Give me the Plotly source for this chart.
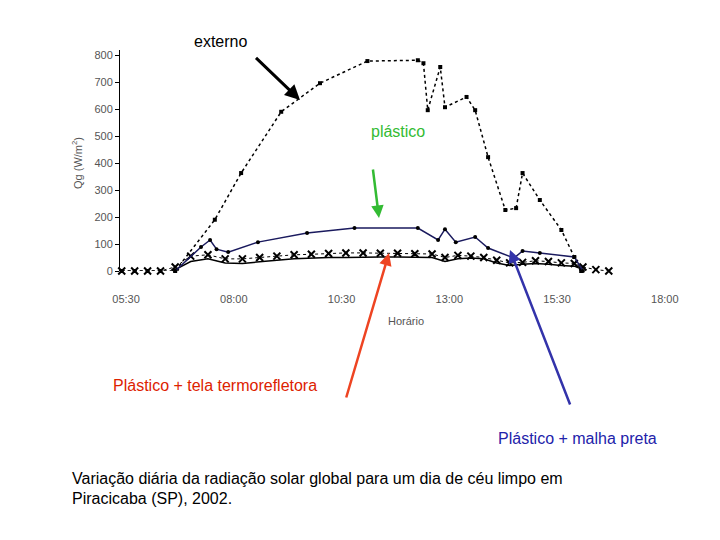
import plotly.graph_objects as go

ext_h = [5.4,5.7,6.0,6.3,6.64,7.56,8.17,9.1,10.0,11.1,12.27,12.4,12.5,12.79,12.9,13.4,13.6,13.9,14.3,14.55,14.7,15.1,15.6,15.9,16.06]
ext_v = [0,0,0,0,0,190,363,590,696,778,781,770,596,756,607,645,596,422,226,233,363,263,152,52,0]

pl_h = [6.64,7.24,7.45,7.6,7.87,8.56,9.7,10.8,12.27,12.74,12.9,13.15,13.6,13.9,14.5,14.7,15.1,15.9,16.1]
pl_v = [0,89,115,81,70,107,141,159,159,115,155,107,126,85,48,74,67,52,0]

tela_h = [5.4,5.7,6.0,6.3,6.64,7.0,7.4,7.8,8.2,8.6,9.0,9.4,9.8,10.2,10.6,11.0,11.4,11.8,12.2,12.6,12.9,13.2,13.5,13.8,14.1,14.4,14.7,15.0,15.3,15.6,15.9,16.1,16.4,16.7]
tela_v = [0,0,0,0,15,55,60,45,45,50,55,60,62,65,67,67,66,66,64,63,50,58,55,50,40,30,32,38,35,30,28,15,5,0]
mal_h = [6.64,7.0,7.4,7.8,8.2,8.6,9.0,9.4,9.8,10.2,10.6,11.0,11.4,11.8,12.2,12.6,12.9,13.2,13.5,13.8,14.1,14.4,14.7,15.0,15.3,15.6,15.9,16.1]
mal_v = [5,35,45,30,28,35,40,45,48,50,50,52,52,52,50,50,35,45,48,45,30,20,25,28,25,20,18,5]

tick_vals = [5.5,8.0,10.5,13.0,15.5,18.0]
tick_text = ["05:30","08:00","10:30","13:00","15:30","18:00"]

fig = go.Figure()
fig.add_trace(go.Scatter(x=ext_h, y=ext_v, mode="lines+markers", line=dict(color="black", width=1.5, dash="dot"),
                         marker=dict(symbol="square", size=4, color="black"), cliponaxis=False))
fig.add_trace(go.Scatter(x=tela_h, y=tela_v, mode="lines+markers", line=dict(color="black", width=1, dash="dot"),
                         marker=dict(symbol="x-thin", size=7, line=dict(width=2, color="black")), cliponaxis=False))
fig.add_trace(go.Scatter(x=mal_h, y=mal_v, mode="lines", line=dict(color="black", width=1.5), cliponaxis=False))
fig.add_trace(go.Scatter(x=pl_h, y=pl_v, mode="lines+markers", line=dict(color="#1a1a5e", width=1.5),
                         marker=dict(symbol="circle", size=4, color="black"), cliponaxis=False))

def px(x): return (x-112)/578
def py(y): return (271-y)/221

ann = []
def arrow(x0,y0,x1,y1,color):
    ann.append(dict(xref="paper", yref="paper", x=px(x1), y=py(y1), ax=x0-x1, ay=y0-y1,
                    showarrow=True, arrowhead=2, arrowsize=1, arrowwidth=3 if color=="black" else 2.5,
                    arrowcolor=color, text=" "))
def label(x,y,t,color,size=16,xanchor="center"):
    ann.append(dict(xref="paper", yref="paper", x=px(x), y=py(y), text=t, showarrow=False,
                    font=dict(color=color, size=size, family="Liberation Sans"), xanchor=xanchor, yanchor="middle"))

arrow(245,55,292,100,"black")
arrow(364,162,371,218,"#33bb33")
arrow(336,405,381,253,"#ee4422")
arrow(565,412,502,250,"#3333aa")
label(212,42,"externo","black")
label(390,131,"plástico","#33bb33")
label(207,385,"Plástico + tela termorefletora","#dd2200")
label(569,438,"Plástico + malha preta","#2222aa")
label(62,478,"Variação diária da radiação solar global para um dia de céu limpo em","black",16,"left")
label(62,498,"Piracicaba (SP), 2002.","black",16,"left")
label(398,321,"Horário","#555",11)
ann.append(dict(xref="paper", yref="paper", x=px(60), y=py(163), text="Qg (W/m<sup>2</sup>)", showarrow=False,
                textangle=-90, font=dict(size=11, color="#555", family="Liberation Sans")))

fig.update_layout(
    width=720, height=540, margin=dict(l=112, r=30, t=42, b=277),
    paper_bgcolor="white", plot_bgcolor="white", showlegend=False,
    font=dict(family="Liberation Sans", size=11, color="#555"),
    annotations=ann,
    xaxis=dict(range=[5.36,18.77], tickvals=tick_vals, ticktext=tick_text, showgrid=False, zeroline=False,
               showline=False, ticks="", ticklabelstandoff=20),
    yaxis=dict(range=[0,819], tickvals=[0,100,200,300,400,500,600,700,800], showgrid=False, zeroline=False,
               showline=True, linecolor="black", linewidth=1, ticks="outside", ticklen=4, tickcolor="black"),
)
fig.write_html("out.html")
